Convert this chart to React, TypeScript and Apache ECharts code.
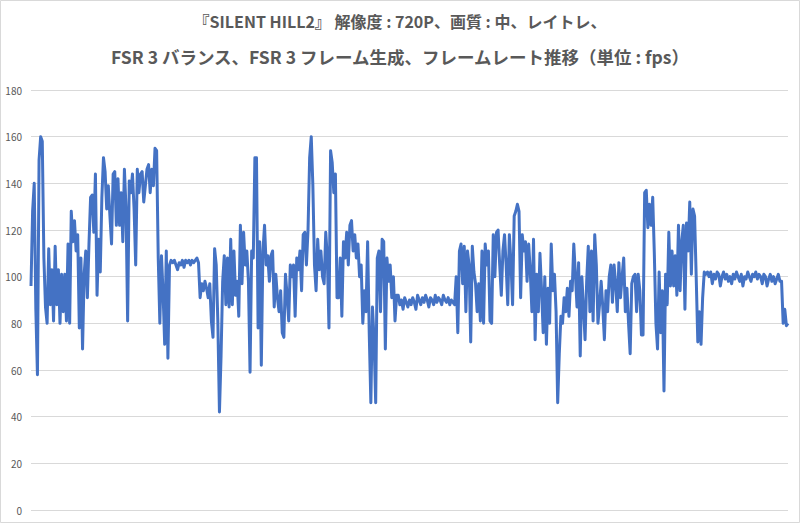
import React, { useEffect, useRef } from "react";
import * as echarts from "echarts";

const titleLine1 = "『SILENT HILL2』 解像度 : 720P、画質 : 中、レイトレ、";
const titleLine2 = "FSR 3 バランス、FSR 3 フレーム生成、フレームレート推移（単位 : fps）";

const yTicks = { min: 0, max: 180, interval: 20 };

const fpsPart1: number[] = [
  96, 128, 140, 86, 58, 150, 160, 158, 108, 87, 80, 112, 88, 103, 81, 113, 88, 103, 80, 101,
  85, 101, 81, 114, 80, 128, 115, 124, 111, 118, 78, 108, 69, 101, 111, 91, 114, 134, 135, 119,
  144, 92, 116, 102, 134, 151, 145, 129, 139, 126, 114, 144, 145, 122, 142, 122, 136, 115, 146, 129,
  81, 141, 136, 144, 129, 105, 146, 136, 144, 145, 132, 139, 146, 148, 136, 146, 139, 155, 154, 108,
  80, 109, 93, 71, 111, 65, 105, 107, 106, 107, 105, 103, 106,
];

const fpsPart2: number[] = [
  105, 107, 104, 107, 106, 107, 105, 107, 106, 107, 108, 106,
  91, 97, 94, 98, 95, 91, 97, 81, 74, 112, 105, 81, 42, 66, 98, 109, 88, 108,
  87, 116, 88, 111, 92, 98, 83, 122, 97, 119, 105, 111, 98, 59, 111, 108, 151, 151, 78, 115,
  62, 111, 122, 105, 109, 98, 109, 111, 87, 101, 91, 85, 94, 76, 74, 101, 92, 81, 105, 100,
  105, 83, 108, 103, 111, 94, 118, 119, 105, 120, 151, 160, 139, 105, 94, 116, 103, 111, 100, 97,
  119, 108, 78, 154, 149, 136, 144, 91,
];

const fpsPart3: number[] = [
  91, 108, 83, 115, 108, 119, 105, 122, 124, 111, 118, 108, 114, 100, 105, 80, 94, 85, 115, 76,
  46, 87, 73, 46, 108, 111, 85, 116, 115, 69, 108, 98, 105, 91, 100, 81, 92,
  92, 88, 90, 86, 91, 89, 87, 90, 88, 91, 89, 86, 92, 90, 88, 91, 89, 92, 90, 87,
  91, 90, 88, 92, 89, 91, 90, 88, 92, 90, 89, 91, 88, 90, 89,
  88, 100, 76, 111, 114, 97, 113, 85, 111, 105, 72, 113, 102, 97, 85, 97, 81, 111, 80, 114,
  105, 111, 81,
];

const fpsPart4: number[] = [
  80, 118, 100, 119, 120, 105, 92, 111, 118, 105, 88, 118, 106, 88, 126, 128, 131, 128, 91, 118,
  111, 115, 98, 114, 102, 85, 116, 73, 101, 85, 110, 94, 76, 100, 71, 95, 80, 114, 94, 101,
  85, 46, 67, 83, 80, 91, 85, 95, 83, 98, 94, 114, 101, 87, 106, 66, 100, 87, 73, 98,
  113, 85, 111, 81, 118, 105, 80, 88, 98, 87, 73, 94, 85, 100, 105, 89, 105, 97, 85, 106,
  91, 100, 108, 85, 95, 80, 67, 97, 100, 101, 85, 101, 94, 75,
];

const fpsPart5: number[] = [
  75, 136, 137, 121, 131, 122, 134, 110, 80, 69, 102, 76, 94, 51, 101, 88, 119, 96, 111, 96,
  109, 92, 122, 94, 115, 122, 86, 123, 111, 132, 101, 129, 126, 100, 72, 85, 71, 91, 102,
  101, 102, 100, 102, 97, 101, 99, 102, 101, 96, 100, 102, 99, 101, 98, 100, 97, 101, 99, 102,
  100, 98, 101, 96, 100, 99, 102, 100, 98, 101, 100, 102, 99, 101, 100, 97, 101, 100, 96, 99,
  101, 98, 100, 97, 99, 101, 98,
  98, 80, 86, 79, 80,
];

const fps: number[] = [...fpsPart1, ...fpsPart2, ...fpsPart3, ...fpsPart4, ...fpsPart5];
const samples: string[] = fps.map((_, i) => String(i + 1));

const FONT = "'Noto Sans CJK JP', 'Noto Sans', sans-serif";
const TEXT = "#595959";

export default function App() {
  const ref = useRef<HTMLDivElement>(null);
  useEffect(() => {
    document.body.style.margin = "0";
    if (!ref.current) return;
    const chart = echarts.init(ref.current, undefined, { renderer: "svg" });
    chart.setOption({
      animation: false,
      backgroundColor: "#ffffff",
      title: [
        {
          text: titleLine1,
          left: "center",
          top: 13,
          padding: 0,
          textStyle: { fontSize: 16, fontWeight: "bold", color: TEXT, fontFamily: FONT },
        },
        {
          text: titleLine2,
          left: "center",
          top: 48,
          padding: 0,
          textStyle: { fontSize: 17.5, fontWeight: "bold", color: TEXT, fontFamily: FONT },
        },
      ],
      graphic: [
        {
          type: "rect",
          shape: { x: 0.5, y: 0.5, width: 799, height: 522 },
          style: { fill: "none", stroke: "#d9d9d9", lineWidth: 1 },
          silent: true,
        },
      ],
      grid: { left: 31, right: 12, top: 90, bottom: 13, containLabel: false },
      xAxis: {
        type: "category",
        data: samples,
        boundaryGap: false,
        axisLine: { show: false },
        axisTick: { show: false },
        axisLabel: { show: false },
        splitLine: { show: false },
      },
      yAxis: {
        type: "value",
        min: yTicks.min,
        max: yTicks.max,
        interval: yTicks.interval,
        axisLine: { show: false },
        axisTick: { show: false },
        axisLabel: { color: TEXT, fontSize: 10, fontFamily: FONT, margin: 9 },
        splitLine: { lineStyle: { color: "#d9d9d9", width: 1 } },
      },
      series: [
        {
          type: "line",
          data: fps,
          showSymbol: false,
          symbol: "none",
          lineStyle: { color: "#4472C4", width: 3, join: "round" },
        },
      ],
    });
    return () => chart.dispose();
  }, []);
  return <div ref={ref} style={{ width: 800, height: 523 }} />;
}
